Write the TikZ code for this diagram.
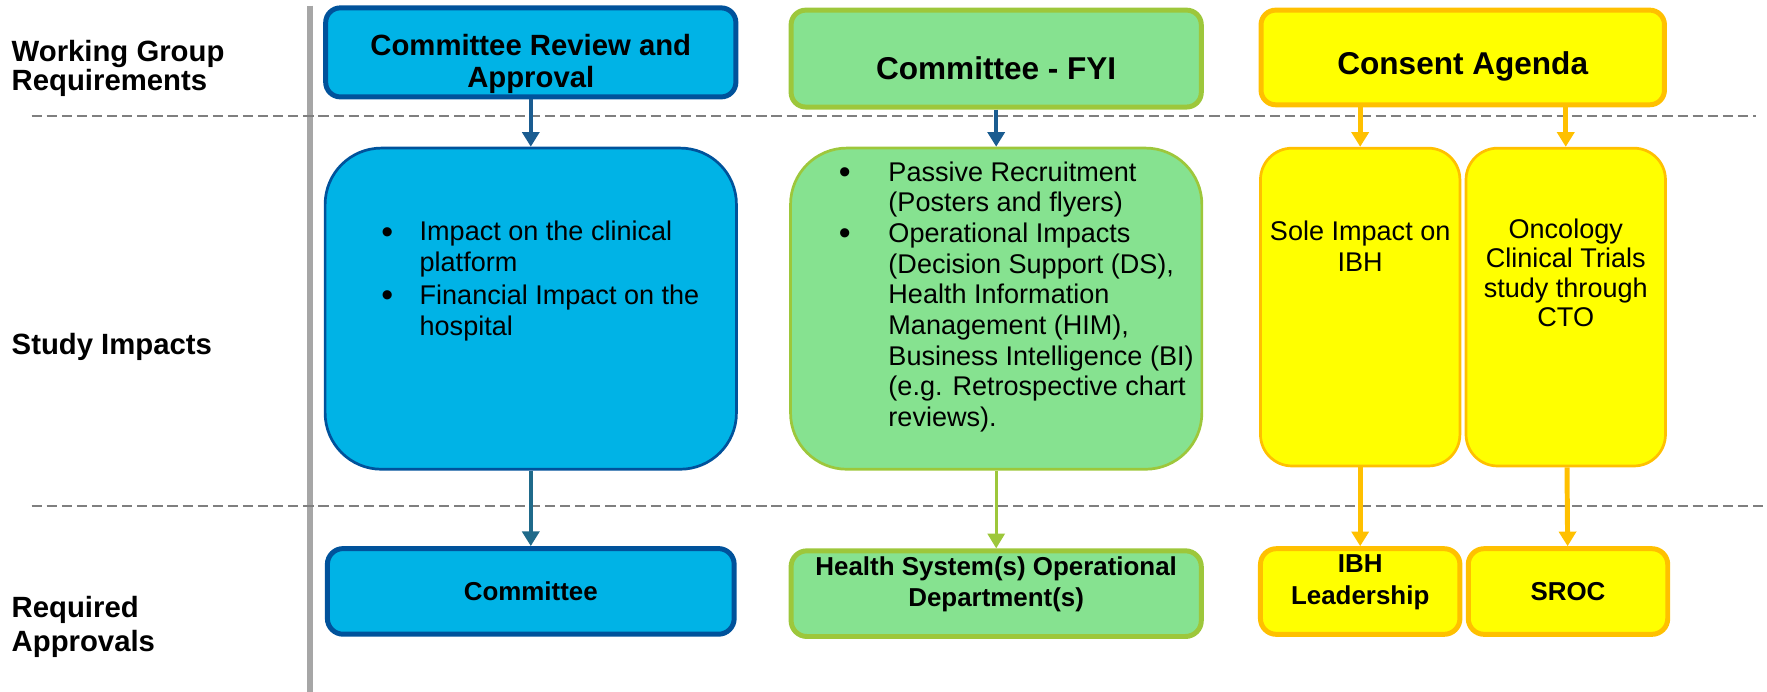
\documentclass[tikz,border=0pt]{standalone}
\usepackage{fontspec}
\setmainfont{Liberation Sans}
\usetikzlibrary{arrows.meta,positioning}

\definecolor{capfill}{HTML}{00B3E6}
\definecolor{capline}{HTML}{00529B}
\definecolor{fyifill}{HTML}{86E290}
\definecolor{fyiline}{HTML}{9DC73B}
\definecolor{consentfill}{HTML}{FFFF00}
\definecolor{consentline}{HTML}{FFC000}
\definecolor{arrowblue}{HTML}{1A5C90}
\definecolor{arrowteal}{HTML}{1F6A8A}
\definecolor{dashgray}{HTML}{7F7F7F}
\definecolor{railgray}{HTML}{A6A6A6}

\begin{document}
\begin{tikzpicture}[
    x=0.5pt, y=-0.5pt,
    rowlabel/.style={anchor=west, align=left, inner sep=0pt, font=\fontsize{13}{13}\selectfont\bfseries},
    topbox/.style={rectangle, draw, line width=2.2pt, rounded corners=6.5pt, align=center, inner ysep=0pt, minimum width=182pt, font=\fontsize{13}{14}\selectfont\bfseries},
    midbox/.style={rectangle, draw, line width=1.2pt, rounded corners=25pt, minimum width=182.5pt, minimum height=142.5pt},
    lowbox/.style={rectangle, draw, line width=2.2pt, rounded corners=7pt, align=center, inner ysep=0pt, minimum width=182pt, minimum height=38pt, font=\fontsize{11.5}{14}\selectfont\bfseries},
    bodytext/.style={align=left, inner sep=0pt, font=\fontsize{12}{13.6}\selectfont},
    capcol/.style={fill=capfill, draw=capline},
    fyicol/.style={fill=fyifill, draw=fyiline},
    consentcol/.style={fill=consentfill, draw=consentline},
    arrow/.style={-{Triangle[width=7.5pt, length=6.5pt]}, line width=2pt},
    divider/.style={draw=dashgray, line width=1pt, dash pattern=on 4.5pt off 2.2pt}
]
\useasboundingbox (0,0) rectangle (1568,614);

% Row labels
\node[rowlabel] (wgreq) at (10,61) {Working Group\\Requirements};
\node[rowlabel] (impacts) at (10,308) {Study Impacts};
\node[rowlabel, font=\fontsize{13}{15}\selectfont\bfseries] (approvals) at (10,556) {Required\\Approvals};

% Rail and dividers
\draw[railgray, line width=2.7pt] (275,5) -- (275,614);
\draw[divider] (28,103) -- (1558,103);
\draw[divider] (28,449) -- (1568,449);

% Column 1 - Committee review
\node[topbox, capcol, minimum height=39.5pt] (review) at (471,46.5) {
    \rule{0pt}{19.5pt}Committee Review and\\Approval
};
\node[midbox, capcol, below=21pt of review] (reviewimp) {};
\node[lowbox, capcol, minimum width=180.5pt, below=33.5pt of reviewimp] (committee) {Committee};
\node[bodytext, anchor=north west] (reviewtxt) at (338,196) {
    \makebox[17pt][l]{\raisebox{-1pt}{\fontsize{15}{0}\selectfont •}}Impact on the clinical\\
    \hspace*{17pt}platform\\[1pt]
    \makebox[17pt][l]{\raisebox{-1pt}{\fontsize{15}{0}\selectfont •}}Financial Impact on the\\
    \hspace*{17pt}hospital
};

% Column 2 - Committee FYI
\node[topbox, fyicol, minimum height=43pt, font=\fontsize{14}{15}\selectfont\bfseries] (fyi) at (884,52) {\rule{0pt}{18.5pt}Committee - FYI};
\node[midbox, fyicol, below=16.5pt of fyi] (fyiimp) {};
\node[lowbox, fyicol, below=34.5pt of fyiimp] (opsdept) {
    Health System(s) Operational\\Department(s)\rule[-10.5pt]{0pt}{10.5pt}
};
\node[bodytext, anchor=north west] (fyitxt) at (744,143) {
    \makebox[22pt][l]{\raisebox{-1pt}{\fontsize{15}{0}\selectfont •}}Passive Recruitment\\
    \hspace*{22pt}(Posters and flyers)\\
    \makebox[22pt][l]{\raisebox{-1pt}{\fontsize{15}{0}\selectfont •}}Operational Impacts\\
    \hspace*{22pt}(Decision Support (DS),\\
    \hspace*{22pt}Health Information\\
    \hspace*{22pt}Management (HIM),\\
    \hspace*{22pt}Business Intelligence (BI)\\
    \hspace*{22pt}(e.g. Retrospective chart\\
    \hspace*{22pt}reviews).
};

% Column 3 - Consent agenda
\node[topbox, consentcol, minimum width=179pt, minimum height=42pt, font=\fontsize{14}{15}\selectfont\bfseries] (consent) at (1298,51) {\rule{0pt}{18.5pt}Consent Agenda};
\node[midbox, consentcol, minimum width=88.5pt, minimum height=141pt, rounded corners=14pt] (ibhimp) at (1207,272.5) {};
\node[midbox, consentcol, minimum width=88.5pt, minimum height=141pt, rounded corners=14pt, right=1.5pt of ibhimp] (ctoimp) {};
\node[lowbox, consentcol, minimum width=88.5pt, below=35pt of ibhimp] (ibhlead) {IBH\\Leadership\rule[-10.5pt]{0pt}{10.5pt}};
\node[lowbox, consentcol, minimum width=88.5pt, right=1.5pt of ibhlead] (sroc) {SROC};
\node[bodytext, align=center, anchor=north] (ibhtxt) at (1207,196) {Sole Impact on\\IBH};
\node[bodytext, align=center, anchor=north, font=\fontsize{12}{13}\selectfont] (ctotxt) at (ctoimp.center |- 0,194) {
    Oncology\\Clinical Trials\\study through\\CTO
};

% Arrows
\draw[arrow, arrowblue] (review) -- (reviewimp);
\draw[arrow, arrowteal, line width=1.8pt] (reviewimp) -- (committee);
\draw[arrow, arrowblue] (fyi) -- (fyiimp);
\draw[arrow, fyiline, line width=1.3pt] (fyiimp) -- (opsdept);
\draw[arrow, consentline, line width=2.2pt] (ibhimp.north |- consent.south) -- (ibhimp.north);
\draw[arrow, consentline, line width=2.2pt] (ctoimp.north |- consent.south) -- (ctoimp.north);
\draw[arrow, consentline, line width=2.2pt] (ibhimp) -- (ibhlead);
\draw[arrow, consentline, line width=2.2pt] (ctoimp) -- (sroc);

\end{tikzpicture}
\end{document}
